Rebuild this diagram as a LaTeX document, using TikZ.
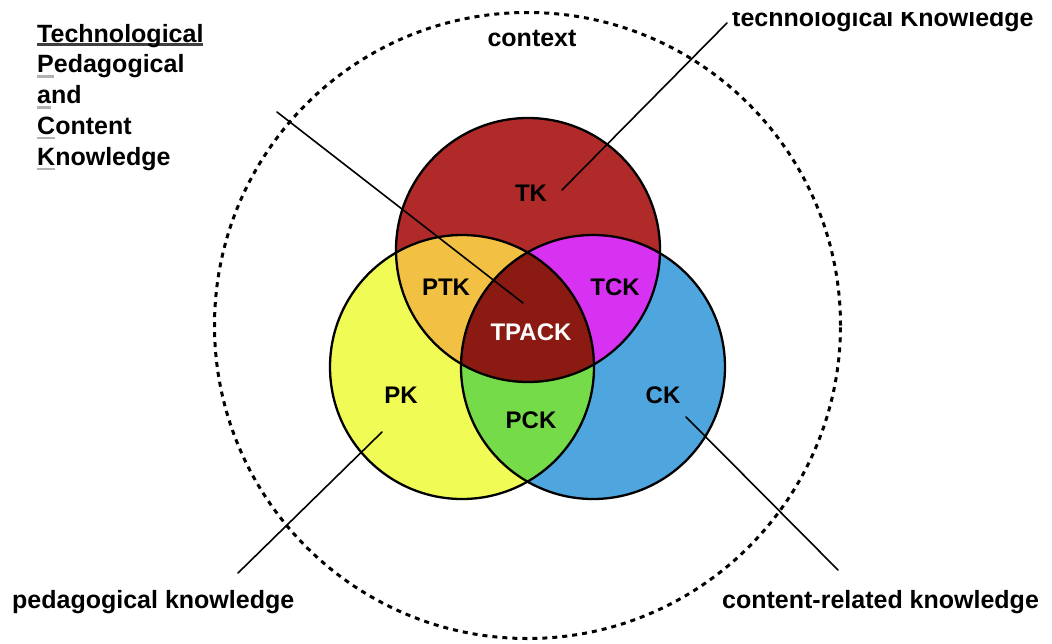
\documentclass[tikz,border=0pt]{standalone}
\usepackage{fontspec}
\setmainfont{Liberation Sans}

\definecolor{tkred}{RGB}{176,42,42}
\definecolor{pkyellow}{RGB}{240,251,85}
\definecolor{ckblue}{RGB}{79,166,222}
\definecolor{ptkorange}{RGB}{242,193,67}
\definecolor{tckmagenta}{RGB}{215,50,242}
\definecolor{pckgreen}{RGB}{118,219,72}
\definecolor{tpackred}{RGB}{138,26,18}

\newcommand\ulbar[3]{\setbox0=\hbox{#3}\rlap{\textcolor{#1}{\rule[#2]{\wd0}{2.4pt}}}\box0}

\tikzset{
	lbl/.style={font=\bfseries\fontsize{24}{24}\selectfont,inner sep=0pt},
	outer/.style={font=\bfseries\fontsize{25}{25}\selectfont,inner sep=0pt},
	ring/.style={draw=black,line width=2.3pt},
	contextring/.style={draw=black,line width=3pt,dash pattern=on 5pt off 5pt},
	pointer/.style={line width=1.6pt,line cap=round}
}

\begin{document}
\begin{tikzpicture}[x=1pt,y=-1pt]
		\useasboundingbox (0,0) rectangle (1052,643);
		\coordinate (T) at (528,250);
		\coordinate (P) at (462,367);
		\coordinate (C) at (593,367);
		\fill[tkred] (T) circle[radius=132pt];
		\fill[pkyellow] (P) circle[radius=132pt];
		\fill[ckblue] (C) circle[radius=132pt];
		\begin{scope}
			\clip (T) circle[radius=132pt];
			\fill[ptkorange] (P) circle[radius=132pt];
			\fill[tckmagenta] (C) circle[radius=132pt];
		\end{scope}
		\begin{scope}
			\clip (P) circle[radius=132pt];
			\fill[pckgreen] (C) circle[radius=132pt];
			\clip (C) circle[radius=132pt];
			\fill[tpackred] (T) circle[radius=132pt];
		\end{scope}
		\foreach \c in {T,P,C}
			\draw[ring] (\c) circle[radius=132pt];
		\draw[contextring] (527.5,325.5) circle[radius=313pt];
		\node[lbl] (tk) at (531,193) {TK};
		\node[lbl] (ptk) at (446,287) {PTK};
		\node[lbl] (tck) at (615,287) {TCK};
		\node[lbl,text=white] (tpack) at (531,332) {TPACK};
		\node[lbl] (pk) at (401,395) {PK};
		\node[lbl] (pck) at (531,420) {PCK};
		\node[lbl] (ck) at (663,395) {CK};
		\node[outer,anchor=base] (ctx) at (532,46) {context};
		\foreach \word [count=\i] in {{\ulbar{black!75}{-3.5pt}{Technological}},{\ulbar{black!30}{-5pt}{P}edagogical},{\ulbar{black!30}{-5pt}{a}nd},{\ulbar{black!30}{-5pt}{C}ontent},{\ulbar{black!30}{-5pt}{K}nowledge}}
			\node[outer,anchor=base west] (name\i) at (37,11.25+30.75*\i) {\word};
		\begin{scope}
			\clip (700,12) rectangle (1052,100);
			\node[outer,anchor=base west] (tktxt) at (732,26) {technological Knowledge};
		\end{scope}
		\node[outer,anchor=base west] (pktxt) at (12,608) {pedagogical knowledge};
		\node[outer,anchor=base west] (cktxt) at (722,608) {content-related knowledge};
		\coordinate (tpackpt) at (523,303);
		\coordinate (namept) at (277,112);
		\coordinate (tkpt) at (562,190);
		\coordinate (pkpt) at (382,432);
		\coordinate (pkend) at (238,573);
		\coordinate (ckpt) at (686,417);
		\coordinate (ckend) at (838,570);
		\draw[pointer] (tpackpt) -- (namept);
		\draw[pointer] (tkpt) -- ([shift={(-5,-3)}]tktxt.base west);
		\draw[pointer] (pkpt) -- (pkend);
		\draw[pointer] (ckpt) -- (ckend);
\end{tikzpicture}
\end{document}
